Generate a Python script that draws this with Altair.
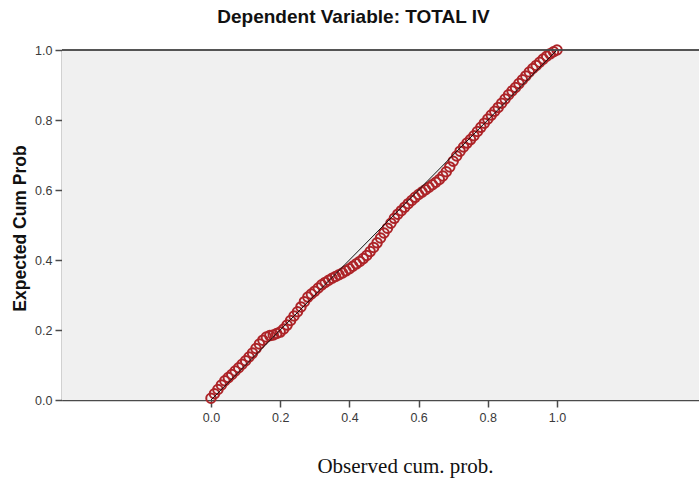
import altair as alt
import pandas as pd

observed = [0.00, 0.01, 0.02, 0.03, 0.04, 0.05, 0.06, 0.07, 0.08, 0.09,
            0.10, 0.11, 0.12, 0.13, 0.14, 0.15, 0.16, 0.17, 0.18, 0.19,
            0.20, 0.21, 0.22, 0.23, 0.24, 0.25, 0.26, 0.27, 0.28, 0.29,
            0.30, 0.31, 0.32, 0.33, 0.34, 0.35, 0.36, 0.37, 0.38, 0.39,
            0.40, 0.41, 0.42, 0.43, 0.44, 0.45, 0.46, 0.47, 0.48, 0.49,
            0.50, 0.51, 0.52, 0.53, 0.54, 0.55, 0.56, 0.57, 0.58, 0.59,
            0.60, 0.61, 0.62, 0.63, 0.64, 0.65, 0.66, 0.67, 0.68, 0.69,
            0.70, 0.71, 0.72, 0.73, 0.74, 0.75, 0.76, 0.77, 0.78, 0.79,
            0.80, 0.81, 0.82, 0.83, 0.84, 0.85, 0.86, 0.87, 0.88, 0.89,
            0.90, 0.91, 0.92, 0.93, 0.94, 0.95, 0.96, 0.97, 0.98, 0.99, 1.00]

expected = [0.005, 0.018, 0.030, 0.043, 0.055, 0.064, 0.073, 0.083, 0.092, 0.102,
            0.112, 0.123, 0.134, 0.147, 0.160, 0.171, 0.180, 0.184, 0.186, 0.190,
            0.194, 0.203, 0.214, 0.227, 0.240, 0.252, 0.266, 0.281, 0.294, 0.303,
            0.311, 0.320, 0.329, 0.336, 0.342, 0.348, 0.353, 0.358, 0.363, 0.369,
            0.375, 0.382, 0.389, 0.396, 0.404, 0.413, 0.424, 0.436, 0.449, 0.463,
            0.477, 0.491, 0.505, 0.519, 0.531, 0.541, 0.551, 0.561, 0.570, 0.579,
            0.587, 0.594, 0.601, 0.608, 0.615, 0.622, 0.630, 0.640, 0.652, 0.666,
            0.682, 0.697, 0.711, 0.723, 0.734, 0.744, 0.755, 0.767, 0.779, 0.791,
            0.803, 0.814, 0.825, 0.836, 0.848, 0.860, 0.872, 0.883, 0.893, 0.904,
            0.915, 0.926, 0.937, 0.947, 0.956, 0.965, 0.974, 0.982, 0.989, 0.995, 1.000]

ref_x = [0.0, 1.0]
ref_y = [0.0, 1.0]
ticks = [0.0, 0.2, 0.4, 0.6, 0.8, 1.0]

pts = pd.DataFrame({"obs": observed, "exp": expected})
ref = pd.DataFrame({"obs": ref_x, "exp": ref_y})

xscale = alt.Scale(domain=[-0.4306, 1.4104], nice=False, zero=False)
yscale = alt.Scale(domain=[0, 1], nice=False, zero=False)

axis_common = dict(
    domainColor="#4a4a4a", domainWidth=1.5, tickColor="#4a4a4a", tickWidth=1.5,
    tickSize=7, grid=False, labelFont="Liberation Sans", labelFontSize=12.5,
    labelColor="#3a3a3a", format=".1f", values=ticks,
)

x_axis = alt.Axis(
    title="Observed cum. prob.", titleFont="Liberation Serif", titleFontSize=21,
    titleFontWeight="normal", titleColor="#111111", titleX=343, titleY=66,
    titleAlign="center", titleBaseline="middle", labelPadding=4, **axis_common,
)
y_axis = alt.Axis(
    title="Expected Cum Prob", titleFont="Liberation Sans", titleFontSize=17.5,
    titleFontWeight="bold", titleColor="#111111", titleX=-42, titleY=178,
    titleAngle=-90, titleAlign="center", titleBaseline="middle", labelPadding=3,
    **axis_common,
)

bg = alt.Chart(ref).mark_rect(color="#F0F0F0").encode(
    x=alt.value(0), x2=alt.value(637), y=alt.value(0), y2=alt.value(350)
)

points = alt.Chart(pts).mark_point(
    shape="circle", filled=False, size=90, strokeWidth=2, color="#AD2428", opacity=1
).encode(
    x=alt.X("obs:Q", scale=xscale, axis=x_axis),
    y=alt.Y("exp:Q", scale=yscale, axis=y_axis),
)

line = alt.Chart(ref).mark_line(color="#111111", strokeWidth=1).encode(
    x=alt.X("obs:Q", scale=xscale),
    y=alt.Y("exp:Q", scale=yscale),
)

topline = alt.Chart(ref).mark_rule(color="#4a4a4a", strokeWidth=1.5).encode(
    x=alt.value(0), x2=alt.value(637), y=alt.value(0)
)

chart = alt.layer(bg, points, line, topline).properties(
    width=637, height=350,
    title=alt.TitleParams(
        "Dependent Variable: TOTAL IV", font="Liberation Sans", fontSize=19,
        fontWeight="bold", color="#111111", anchor="middle", dx=-27, dy=-10,
        frame="group",
    ),
    autosize=alt.AutoSizeParams(type="none"),
    padding={"left": 62, "top": 50, "right": 0, "bottom": 82},
).configure_view(
    stroke="transparent"
).configure(background="#FFFFFF")

chart.save("out.html", embed_options={"renderer": "svg", "actions": False})
